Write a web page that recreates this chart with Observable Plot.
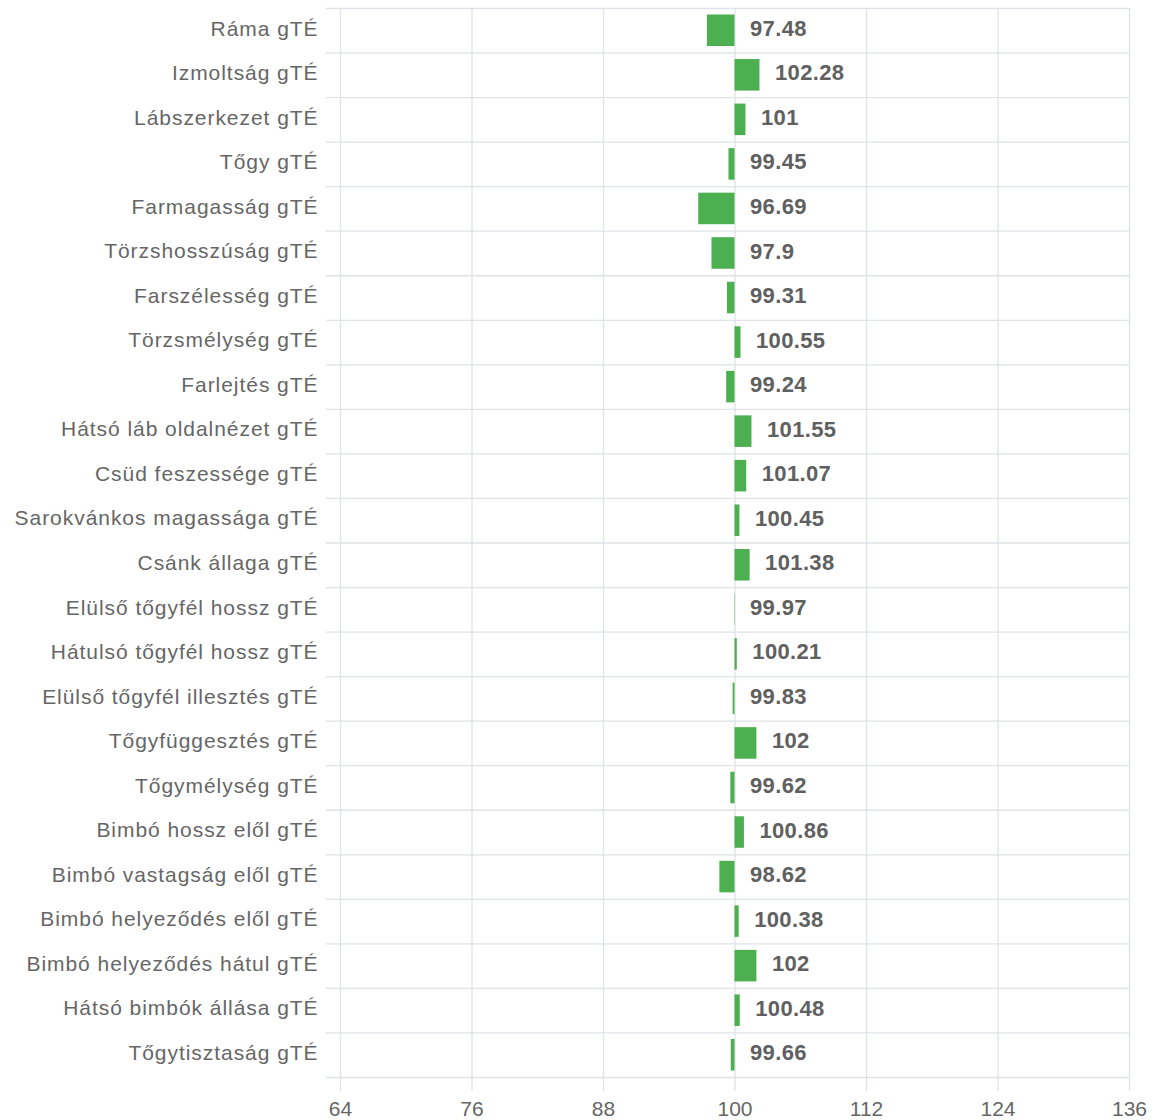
<!DOCTYPE html>
<html>
<head>
<meta charset="utf-8">
<script src="https://cdn.jsdelivr.net/npm/d3@7"></script>
<script src="https://cdn.jsdelivr.net/npm/@observablehq/plot@0.6"></script>
<style>
  html, body { margin: 0; padding: 0; background: #fff; }
  #chart { width: 1152px; height: 1120px; }
  #chart .ylab text { letter-spacing: 0.95px; }
  #chart .vlab text { letter-spacing: 0.35px; }
</style>
</head>
<body>
<div id="chart"></div>
<script>
const traits = [
  "Ráma gTÉ", "Izmoltság gTÉ", "Lábszerkezet gTÉ", "Tőgy gTÉ", "Farmagasság gTÉ",
  "Törzshosszúság gTÉ", "Farszélesség gTÉ", "Törzsmélység gTÉ", "Farlejtés gTÉ",
  "Hátsó láb oldalnézet gTÉ", "Csüd feszessége gTÉ", "Sarokvánkos magassága gTÉ",
  "Csánk állaga gTÉ", "Elülső tőgyfél hossz gTÉ", "Hátulsó tőgyfél hossz gTÉ",
  "Elülső tőgyfél illesztés gTÉ", "Tőgyfüggesztés gTÉ", "Tőgymélység gTÉ",
  "Bimbó hossz elől gTÉ", "Bimbó vastagság elől gTÉ", "Bimbó helyeződés elől gTÉ",
  "Bimbó helyeződés hátul gTÉ", "Hátsó bimbók állása gTÉ", "Tőgytisztaság gTÉ"
];
const values = [
  97.48, 102.28, 101, 99.45, 96.69, 97.9, 99.31, 100.55, 99.24, 101.55, 101.07, 100.45,
  101.38, 99.97, 100.21, 99.83, 102, 99.62, 100.86, 98.62, 100.38, 102, 100.48, 99.66
];
const xTicks = [64, 76, 88, 100, 112, 124, 136];
const baseline = 100;

const rows = traits.map((name, i) => ({name, i, value: values[i]}));
const rowEdges = d3.range(traits.length + 1);

const font = "'Liberation Sans', Arial, sans-serif";

const chart = Plot.plot({
  width: 1152,
  height: 1120,
  marginLeft: 340,
  marginRight: 23,
  marginTop: 8,
  marginBottom: 43,
  style: {fontFamily: font, fontSize: "21px", color: "#666", background: "#fff"},
  x: {domain: [64, 136], ticks: xTicks, label: null},
  y: {domain: [0, traits.length], reverse: true, label: null},
  marks: [
    Plot.ruleX(xTicks, {stroke: "#dfe2e7", strokeWidth: 1.3, insetBottom: -14}),
    Plot.ruleY(rowEdges, {stroke: "#dfe2e7", strokeWidth: 1.3, insetLeft: -14}),
    Plot.rectX(rows, {
      x1: baseline, x2: "value", y1: "i", y2: d => d.i + 1,
      insetTop: 6.5, insetBottom: 6.5, fill: "#4caf50"
    }),
    Plot.text(rows, {
      x: d => Math.max(d.value, baseline), y: d => d.i + 0.5,
      text: d => String(d.value), textAnchor: "start", dx: 15, dy: -2,
      fontWeight: "bold", fontSize: 22, fill: "#606060", className: "vlab"
    }),
    Plot.axisX({ticks: xTicks, tickSize: 0, tickPadding: 24, fontSize: 21, fill: "#666", label: null}),
    Plot.axisY({
      ticks: traits.map((_, i) => i + 0.5),
      tickFormat: t => traits[Math.floor(t)],
      tickSize: 0, tickPadding: 22, dy: -2, fontSize: 21, fill: "#666", label: null,
      className: "ylab"
    })
  ]
});
document.getElementById("chart").append(chart);
</script>
</body>
</html>
